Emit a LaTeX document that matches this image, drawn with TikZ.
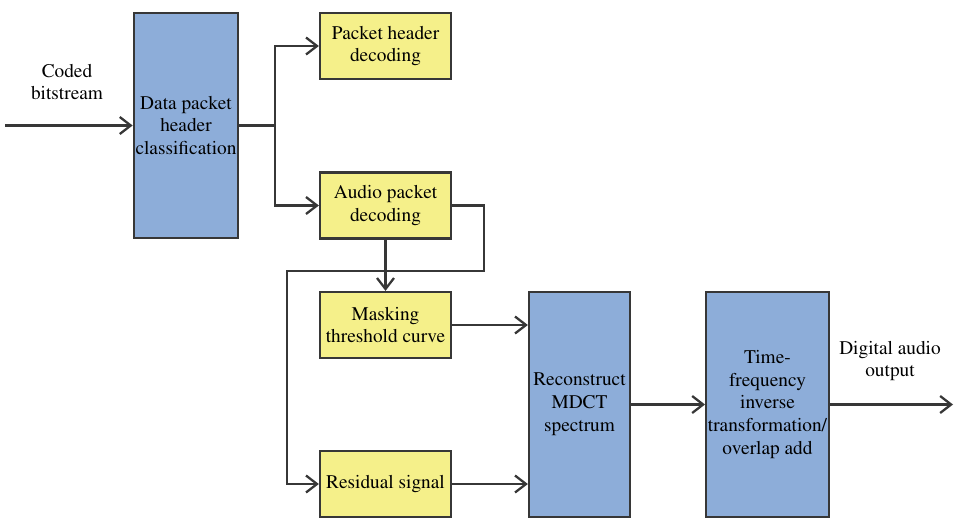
\documentclass[tikz,border=0pt]{standalone}
\usepackage[T1]{fontenc}
\usepackage{times}
\usetikzlibrary{arrows.meta}
\definecolor{boxblue}{RGB}{141,173,217}
\definecolor{boxyellow}{RGB}{245,240,138}
\definecolor{edgegray}{RGB}{55,55,55}
\begin{document}
\begin{tikzpicture}[x=0.02cm,y=-0.02cm,line width=1.3pt,
    >={Straight Barb[length=2.2mm,width=3.4mm]},
    every node/.style={font=\fontsize{11}{13}\selectfont,align=center},
    tallbox/.style={draw=edgegray,fill=boxblue,minimum height=4.5cm,inner sep=1pt},
    stepbox/.style={draw=edgegray,fill=boxyellow,minimum width=2.62cm,minimum height=1.32cm,inner sep=1pt},
    wire/.style={draw=edgegray}]

        \useasboundingbox (0,0) rectangle (955,518);

        % Blue blocks
        \node [tallbox,minimum width=2.04cm] (data) at (186,125.5) {Data packet\\header\\classification};
        \node [tallbox,minimum width=2.02cm] (rec) at (579.5,404.5) {Reconstruct\\MDCT\\spectrum};
        \node [tallbox,minimum width=2.42cm] (tf) at (767.5,404.5) {Time-\\frequency\\inverse\\transformation/\\overlap add};

        % Yellow blocks
        \node [stepbox] (phd) at (385.5,46) {Packet header\\decoding};
        \node [stepbox] (apd) at (385.5,205.5) {Audio packet\\decoding};
        \node [stepbox] (mtc) at (385.5,325) {Masking\\threshold curve};
        \node [stepbox] (res) at (385.5,484) {Residual signal};

        % Free ends and bends
        \coordinate (in) at (5,125.5);
        \coordinate (out) at (953,404.5);
        \coordinate (split) at (275,125.5);
        \coordinate (loopR) at (484,271);
        \coordinate (loopL) at (287,271);

        % Outside labels
        \node (coded) at (67,82) {Coded\\bitstream};
        \node (digital) at (890,361) {Digital audio\\output};

        % Connectors
        \draw[wire,->] (in) -- (data);
        \draw[wire] (data) -- (split);
        \draw[wire,->] (split) |- (phd);
        \draw[wire,->] (split) |- (apd);
        \draw[wire,->] (apd) -- (mtc);
        \draw[wire,->] (apd.east) -| (loopR) -- (loopL) |- (res.west);
        \draw[wire,->] (mtc.east) -- (rec.west |- mtc.east);
        \draw[wire,->] (res.east) -- (rec.west |- res.east);
        \draw[wire,->] (rec) -- (tf);
        \draw[wire,->] (tf) -- (out);

    \end{tikzpicture}
\end{document}
